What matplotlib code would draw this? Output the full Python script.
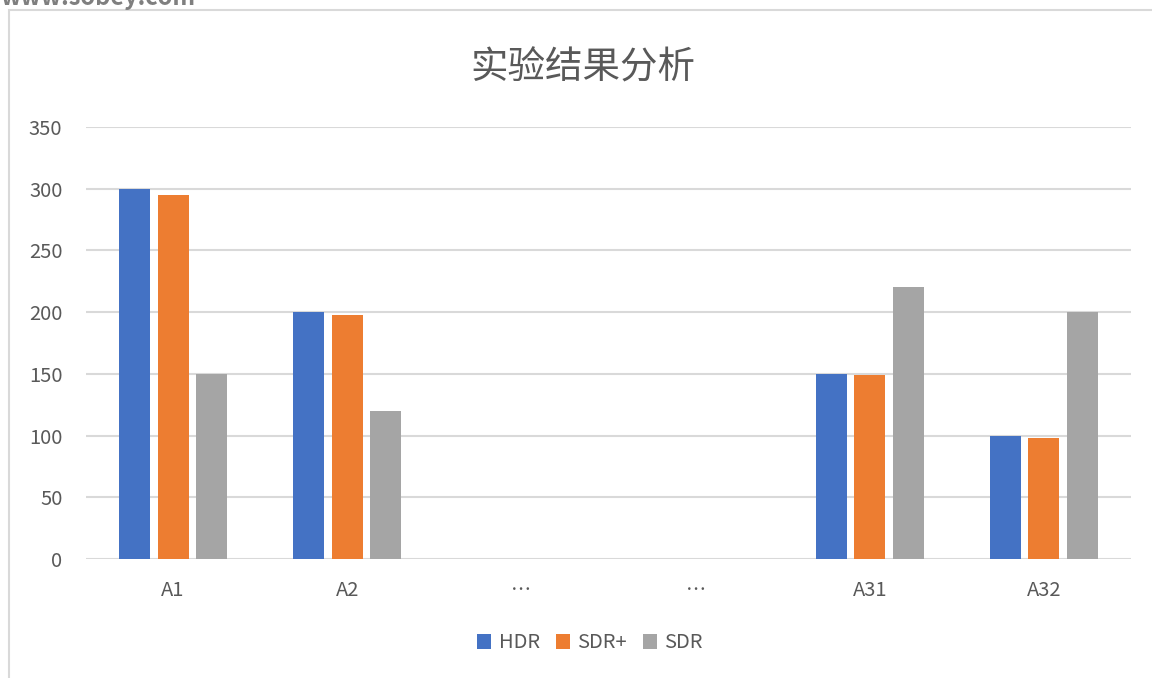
import numpy as np
import matplotlib.pyplot as plt
from matplotlib.patches import Rectangle

plt.rcParams['font.family'] = ['Noto Sans CJK SC', 'DejaVu Sans']

# data
categories = ["A1", "A2", "…", "…", "A31", "A32"]
hdr = [300, 200, 0, 0, 150, 100]
sdr_plus = [295, 198, 0, 0, 149, 98]
sdr = [150, 120, 0, 0, 220, 200]
series_names = ["HDR", "SDR+", "SDR"]
colors = ["#4472C4", "#ED7D31", "#A5A5A5"]

TEXT_GRAY = "#595959"
GRID_GRAY = "#D9D9D9"

fig = plt.figure(figsize=(11.52, 6.78), dpi=100)
ax = fig.add_axes([86 / 1152, 1 - 559 / 678, 1045 / 1152, 432 / 678])

x = np.arange(len(categories))
width = 0.178
step = 0.222
for i, (vals, name, c) in enumerate(zip([hdr, sdr_plus, sdr], series_names, colors)):
    ax.bar(x + (i - 1) * step, vals, width, color=c, label=name, zorder=3)

ax.set_xlim(-0.5, len(categories) - 0.5)
ax.set_ylim(0, 350)
ax.set_yticks(np.arange(0, 351, 50))
ax.set_xticks(x)
ax.set_xticklabels(categories)

ax.yaxis.grid(True, color=GRID_GRAY, linewidth=1.5, zorder=0)
for s in ax.spines.values():
    s.set_visible(False)
ax.tick_params(axis="both", length=0, labelsize=14.5, colors=TEXT_GRAY)
ax.tick_params(axis="x", pad=15)
ax.tick_params(axis="y", pad=17)

fig.text(0.506, 1 - 68 / 678, "实验结果分析", ha="center", va="center",
         fontsize=27, color=TEXT_GRAY)

leg = fig.legend(loc="center", bbox_to_anchor=(0.512, 1 - 643 / 678), ncol=3,
                 frameon=False, fontsize=14.5, handlelength=0.7, handleheight=0.7,
                 handletextpad=0.35, columnspacing=0.8)
for t in leg.get_texts():
    t.set_color(TEXT_GRAY)

# chart area border and cut-off watermark
fig.patches.append(Rectangle((9 / 1152, -0.05), 1.1, 1 - 10 / 678 + 0.05,
                             transform=fig.transFigure, fill=False,
                             edgecolor=GRID_GRAY, linewidth=1.5))
fig.text(0.0, 1 - 5 / 678, "www.sobey.com", ha="left", va="baseline",
         fontsize=17, fontweight="bold", color="#7F7F7F")

fig.savefig("out.png", dpi=100)
